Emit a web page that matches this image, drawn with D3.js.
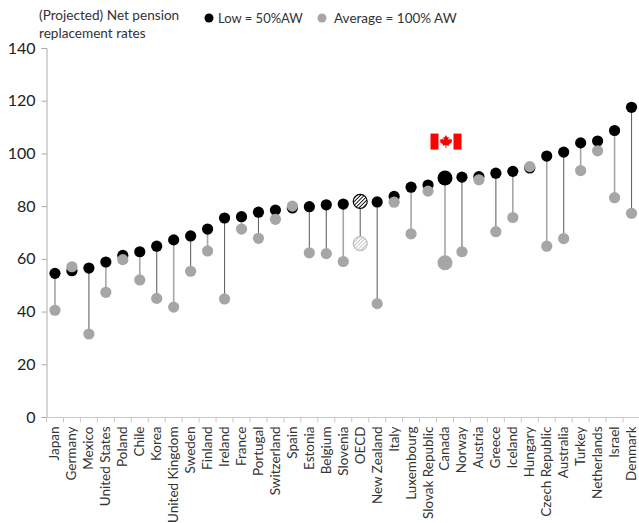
<!DOCTYPE html>
<html>
<head>
<meta charset="utf-8">
<script src="https://cdn.jsdelivr.net/npm/d3@7/dist/d3.min.js"></script>
<style>
html,body{margin:0;padding:0;background:#fff;}
svg{display:block;}
text{font-family:Lato,"Open Sans",sans-serif;fill:#333;}
</style>
</head>
<body>
<svg id="chart" width="639" height="523"></svg>
<script>
// Net pension replacement rates by country, at low and average earnings
const countries = ["Japan","Germany","Mexico","United States","Poland","Chile","Korea","United Kingdom","Sweden","Finland","Ireland","France","Portugal","Switzerland","Spain","Estonia","Belgium","Slovenia","OECD","New Zealand","Italy","Luxembourg","Slovak Republic","Canada","Norway","Austria","Greece","Iceland","Hungary","Czech Republic","Australia","Turkey","Netherlands","Israel","Denmark"];
const lowEarner = [54.5,55.5,56.5,58.8,61.3,62.7,64.8,67.2,68.7,71.3,75.5,76,77.7,78.5,79.3,79.8,80.5,80.8,81.8,81.6,83.7,87.2,88,90.7,91,91.2,92.5,93.2,94.5,99,100.5,104,104.7,108.7,117.5];
const averageEarner = [40.5,57,31.5,47.3,59.7,52,45,41.7,55.3,63,44.8,71.3,67.8,75,80,62.3,62,59,65.8,43,81.5,69.5,85.7,58.5,62.7,90,70.3,75.7,95,64.8,67.7,93.5,101,83.2,77.3];
const yTicks = [0,20,40,60,80,100,120,140];
const titleLines = ["(Projected) Net pension","replacement rates"];
const legendItems = ["Low = 50%AW","Average = 100% AW"];
// Connector weight alternates between a thin dark stroke and a wider pale one
const darkConnectors = ["Mexico","Korea","Sweden","Ireland","Portugal","Estonia","Belgium","OECD","New Zealand","Norway","Greece","Australia","Denmark"];

const svg = d3.select("#chart");
const x = d3.scaleBand().domain(countries).range([46.5,640]);
const y = d3.scaleLinear().domain([0,140]).range([417,48]);
const cx = c => x(c) + x.bandwidth()/2;

const rows = countries.map((c,i)=>({c,low:lowEarner[i],avg:averageEarner[i]}));

// Hatched fills that single out the OECD average
const defs = svg.append("defs");
[["hatchDark","#000","#fff",0.9],["hatchLight","#a6a6a6","#fff",0.6]].forEach(([id,ink,bg,w])=>{
  const p = defs.append("pattern").attr("id",id).attr("width",2.6).attr("height",2.6)
    .attr("patternUnits","userSpaceOnUse").attr("patternTransform","rotate(45)");
  p.append("rect").attr("width",2.6).attr("height",2.6).attr("fill",bg);
  p.append("rect").attr("width",w).attr("height",2.6).attr("fill",ink);
});

// Axes
const yAxis = svg.append("g").attr("transform","translate(46.5,0)")
  .call(d3.axisLeft(y).tickValues(yTicks).tickSize(5).tickPadding(6));
yAxis.selectAll("path,line").attr("stroke","#ababab");
yAxis.selectAll("text").attr("font-size",16).style("fill","#222");

const xAxisG = svg.append("g").attr("transform","translate(0,417.5)");
xAxisG.append("line").attr("x1",46.5).attr("x2",640).attr("stroke","#c8c8c8");
xAxisG.selectAll("line.t").data(countries.concat([null])).join("line").attr("class","t")
  .attr("x1",(c,i)=>46.5+i*x.step()).attr("x2",(c,i)=>46.5+i*x.step())
  .attr("y1",0).attr("y2",5).attr("stroke","#c8c8c8");
xAxisG.selectAll("text").data(countries).join("text")
  .attr("transform",c=>`translate(${cx(c)+4.5},9) rotate(-90)`)
  .attr("text-anchor","end").attr("font-size",13.5).text(c=>c);

// High-low connectors
svg.append("g").selectAll("line").data(rows).join("line")
  .attr("x1",d=>cx(d.c)).attr("x2",d=>cx(d.c))
  .attr("y1",d=>y(d.low)).attr("y2",d=>y(d.avg))
  .attr("stroke",d=>darkConnectors.includes(d.c)?"#666":"#a6a6a6")
  .attr("stroke-width",d=>darkConnectors.includes(d.c)?1.1:1.6);

const radius = d => d.c==="Canada" ? 7.5 : d.c==="OECD" ? 7 : 5.6;

// Low earner markers, then average earner markers over them
svg.append("g").selectAll("circle").data(rows).join("circle")
  .attr("cx",d=>cx(d.c)).attr("cy",d=>y(d.low)).attr("r",radius)
  .attr("fill",d=>d.c==="OECD"?"url(#hatchDark)":"#000")
  .attr("stroke",d=>d.c==="OECD"?"#000":"none").attr("stroke-width",1.2);
svg.append("g").selectAll("circle").data(rows).join("circle")
  .attr("cx",d=>cx(d.c)).attr("cy",d=>y(d.avg)).attr("r",radius)
  .attr("fill",d=>d.c==="OECD"?"url(#hatchLight)":"#a6a6a6")
  .attr("stroke",d=>d.c==="OECD"?"#bdbdbd":"none").attr("stroke-width",1.2);

// Canadian flag above the Canada marker
const flag = svg.append("g").attr("transform",`translate(${cx("Canada")+1},${y(104.5)})`);
flag.append("rect").attr("x",-15.5).attr("y",-8).attr("width",31).attr("height",16).attr("fill","#fff");
flag.append("rect").attr("x",-15.5).attr("y",-8).attr("width",8).attr("height",16).attr("fill","#f00");
flag.append("rect").attr("x",7.5).attr("y",-8).attr("width",8).attr("height",16).attr("fill","#f00");
flag.append("path").attr("fill","#f00")
  .attr("d","M0,-6.5L1.4,-4L2.8,-4.7L2.2,-1.4L3.8,-3L4.3,-2L6.2,-2.3L5.5,-0.2L6.3,0.3L3,3L3.3,4.2L0.4,3.8L0.5,6.5L-0.5,6.5L-0.4,3.8L-3.3,4.2L-3,3L-6.3,0.3L-5.5,-0.2L-6.2,-2.3L-4.3,-2L-3.8,-3L-2.2,-1.4L-2.8,-4.7L-1.4,-4Z");

// Heading at the top left
svg.append("g").selectAll("text").data(titleLines).join("text")
  .attr("x",39).attr("y",(d,i)=>20+i*17.5).attr("font-size",13.6).text(d=>d);

// Legend
const legendX = [209,322], legendFill = ["#000","#a6a6a6"], legendGap = [9,12];
const legend = svg.append("g").selectAll("g").data(legendItems).join("g")
  .attr("transform",(d,i)=>`translate(${legendX[i]},18)`);
legend.append("circle").attr("r",4.5).attr("fill",(d,i)=>legendFill[i]);
legend.append("text").attr("x",(d,i)=>legendGap[i]).attr("y",5).attr("font-size",(d,i)=>i?13.5:13).text(d=>d);
</script>
</body>
</html>
